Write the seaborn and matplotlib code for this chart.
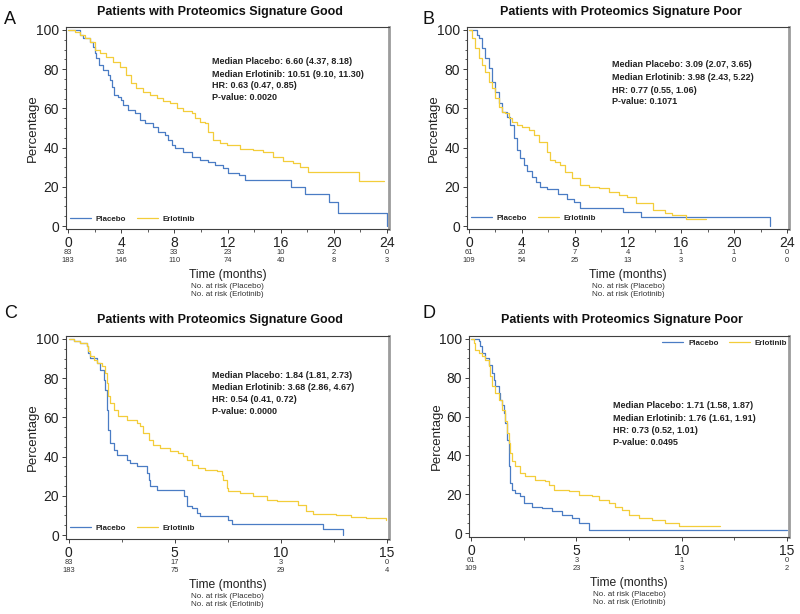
import numpy as np
import pandas as pd
import matplotlib
matplotlib.use("Agg")
import matplotlib.pyplot as plt
import matplotlib.transforms as mtransforms
from matplotlib.ticker import MultipleLocator
import seaborn as sns

sns.set_style("ticks")
plt.rcParams['font.family'] = ['Liberation Sans', 'DejaVu Sans']

BLUE = "#4a7cc4"
YELLOW = "#f3cd3a"

# ---------------- Panel A : Signature Good (0-24 months) ----------------
a_pla_t = [0, 0.88, 1.13, 1.63, 1.88, 2.01, 2.14, 2.34, 2.64, 3.02, 3.14, 3.34, 3.44, 3.77, 4.02, 4.15,
           4.52, 5.03, 5.40, 5.78, 6.41, 6.79, 7.29, 7.54, 7.79, 8.04, 8.67, 9.30, 9.93, 10.55, 11.06,
           11.69, 12.05, 12.9, 13.3, 16.8, 17.8, 19.6, 20.3, 24.0]
a_pla_s = [100, 97.4, 95.7, 94.0, 91.5, 88.1, 85.5, 82.1, 79.6, 77.0, 74.5, 71.1, 66.8, 66.0, 64.3, 61.7,
           59.2, 57.5, 54.1, 52.4, 50.7, 48.1, 46.4, 43.9, 41.3, 39.6, 37.9, 35.4, 33.7, 32.8, 31.3,
           29.4, 27.0, 26.0, 23.7, 20.0, 16.3, 12.2, 6.6, 0]
a_erl_t = [0, 0.50, 0.88, 1.26, 1.63, 2.01, 2.39, 2.89, 3.39, 3.90, 4.40, 4.77, 5.15, 5.65, 6.16, 6.66,
           7.16, 7.66, 8.17, 8.67, 9.30, 9.55, 9.93, 10.30, 10.55, 10.93, 11.43, 11.94, 12.94, 13.95,
           14.70, 15.45, 16.21, 16.96, 17.47, 18.09, 21.86, 23.75]
a_erl_s = [100, 99.1, 97.4, 95.7, 94.0, 89.8, 88.1, 86.4, 83.8, 81.3, 77.0, 72.8, 70.2, 68.5, 66.8, 65.1,
           63.8, 62.6, 60.4, 58.7, 57.5, 54.9, 53.2, 52.4, 48.1, 43.9, 42.2, 41.3, 39.3, 38.8,
           37.9, 35.4, 33.2, 32.0, 30.3, 27.6, 22.8, 22.8]
a_ticks = [0, 4, 8, 12, 16, 20, 24]
a_risk_pla = [83, 53, 33, 23, 10, 2, 0]
a_risk_erl = [183, 146, 110, 74, 40, 8, 3]
a_stats = ["Median Placebo: 6.60 (4.37, 8.18)", "Median Erlotinib: 10.51 (9.10, 11.30)",
           "HR: 0.63 (0.47, 0.85)", "P-value: 0.0020"]

# ---------------- Panel B : Signature Poor (0-24 months) ----------------
b_pla_t = [0, 0.60, 0.73, 0.98, 1.23, 1.48, 1.74, 1.99, 2.24, 2.49, 2.87, 3.12, 3.37, 3.62, 3.87, 4.13,
           4.40, 4.76, 5.05, 5.38, 5.9, 6.7, 7.4, 7.9, 8.35, 11.65, 12.95, 22.75]
b_pla_s = [100, 97.5, 95.7, 90.6, 85.5, 80.4, 73.6, 68.5, 62.6, 58.3, 55.8, 51.5, 44.7, 38.8, 34.5, 31.1,
           28.0, 25.0, 22.3, 20.1, 19.0, 16.2, 14.0, 12.3, 9.0, 7.0, 4.8, 0]
b_erl_t = [0, 0.23, 0.48, 0.73, 0.98, 1.23, 1.48, 1.74, 1.99, 2.24, 2.49, 2.74, 2.99, 3.25, 3.62, 4.00,
           4.50, 4.88, 5.26, 5.89, 6.14, 6.52, 6.89, 7.27, 7.77, 8.40, 9.03, 9.79, 10.54, 11.30,
           11.9, 12.6, 13.85, 14.8, 15.3, 16.35, 17.9]
b_erl_s = [100, 95.7, 90.6, 85.5, 82.1, 78.7, 73.6, 70.2, 65.1, 60.9, 58.3, 57.5, 54.9, 53.2, 51.5, 50.7,
           49.0, 46.4, 43.0, 37.9, 33.7, 32.8, 31.1, 27.7, 24.3, 20.9, 20.1, 19.2, 17.6, 15.8,
           14.6, 12.0, 8.0, 6.6, 5.4, 3.8, 3.8]
b_ticks = [0, 4, 8, 12, 16, 20, 24]
b_risk_pla = [61, 20, 7, 4, 1, 1, 0]
b_risk_erl = [109, 54, 25, 13, 3, 0, 0]
b_stats = ["Median Placebo: 3.09 (2.07, 3.65)", "Median Erlotinib: 3.98 (2.43, 5.22)",
           "HR: 0.77 (0.55, 1.06)", "P-value: 0.1071"]

# ---------------- Panel C : Signature Good (0-15 months) ----------------
c_pla_t = [0, 0.24, 0.55, 0.86, 0.94, 1.02, 1.33, 1.49, 1.65, 1.73, 1.80, 1.88, 1.96, 2.12, 2.28, 2.75,
           2.90, 3.22, 3.69, 3.77, 3.84, 4.16, 5.45, 5.57, 5.81, 6.04, 6.20, 7.53, 7.69, 12.0, 12.94]
c_pla_s = [100, 98.8, 98.0, 96.3, 92.9, 90.3, 87.8, 84.4, 79.3, 74.2, 64.0, 53.8, 47.0, 43.5, 41.0, 38.4,
           36.7, 35.0, 31.6, 28.2, 24.8, 23.1, 19.7, 14.6, 13.8, 11.2, 9.5, 7.8, 5.8, 3.1, 0]
c_erl_t = [0, 0.24, 0.55, 0.86, 0.94, 1.02, 1.18, 1.33, 1.57, 1.73, 1.80, 1.88, 1.96, 2.12, 2.35, 2.75,
           3.22, 3.37, 3.53, 3.77, 4.00, 4.31, 4.79, 5.18, 5.41, 5.57, 5.81, 6.12, 6.43, 6.98,
           7.22, 7.30, 7.45, 7.53, 8.08, 8.71, 9.34, 9.81, 10.8, 11.2, 11.5, 12.6, 13.3, 14.0, 14.95]
c_erl_s = [100, 98.8, 98.0, 96.3, 93.7, 91.2, 89.5, 87.8, 86.1, 82.7, 77.6, 70.8, 67.4, 64.0, 60.6, 58.9,
           57.2, 55.5, 52.1, 48.6, 46.1, 44.4, 42.7, 41.8, 40.1, 38.4, 35.9, 34.2, 33.3, 32.5,
           30.8, 28.2, 24.0, 22.3, 21.4, 19.7, 18.0, 17.2, 15.5, 12.5, 11.0, 10.0, 9.0, 8.5, 7.5]
c_ticks = [0, 5, 10, 15]
c_risk_pla = [83, 17, 3, 0]
c_risk_erl = [183, 75, 29, 4]
c_stats = ["Median Placebo: 1.84 (1.81, 2.73)", "Median Erlotinib: 3.68 (2.86, 4.67)",
           "HR: 0.54 (0.41, 0.72)", "P-value: 0.0000"]

# ---------------- Panel D : Signature Poor (0-15 months) ----------------
d_pla_t = [0, 0.36, 0.44, 0.52, 0.68, 0.84, 1.00, 1.08, 1.15, 1.31, 1.39, 1.47, 1.55, 1.63, 1.71, 1.79,
           1.87, 1.95, 2.10, 2.34, 2.50, 2.90, 3.37, 3.84, 4.32, 4.79, 5.11, 5.58, 15.0]
d_pla_s = [100, 98.8, 96.2, 92.8, 90.2, 86.8, 82.5, 79.0, 75.6, 72.2, 68.7, 66.1, 61.8, 56.7, 48.1, 34.4,
           25.8, 22.3, 20.6, 18.9, 15.5, 13.7, 12.9, 11.2, 9.4, 7.7, 5.2, 1.7, 1.7]
d_erl_t = [0, 0.13, 0.21, 0.36, 0.52, 0.68, 0.84, 0.92, 1.00, 1.15, 1.31, 1.47, 1.63, 1.71, 1.79, 1.87,
           1.95, 2.10, 2.34, 2.58, 3.05, 3.53, 3.69, 3.92, 4.64, 5.11, 5.74, 6.06, 6.53, 6.85,
           7.17, 7.48, 7.96, 8.59, 9.22, 9.86, 11.8]
d_erl_s = [100, 97.9, 94.5, 92.8, 91.1, 89.3, 85.9, 80.7, 75.6, 72.2, 68.7, 63.6, 57.6, 51.5, 46.4, 41.2,
           36.9, 34.4, 30.9, 29.2, 27.5, 26.6, 24.9, 22.3, 21.5, 19.8, 18.9, 17.2, 15.5, 13.7,
           12.0, 9.4, 7.7, 6.9, 5.2, 3.8, 3.8]
d_ticks = [0, 5, 10, 15]
d_risk_pla = [61, 3, 1, 0]
d_risk_erl = [109, 23, 3, 2]
d_stats = ["Median Placebo: 1.71 (1.58, 1.87)", "Median Erlotinib: 1.76 (1.61, 1.91)",
           "HR: 0.73 (0.52, 1.01)", "P-value: 0.0495"]

arms = ["Placebo", "Erlotinib"]
titles = {"good": "Patients with Proteomics Signature Good",
          "poor": "Patients with Proteomics Signature Poor"}

W, H = 800, 614
fig = plt.figure(figsize=(W / 100, H / 100), dpi=100)


def px_axes(left, right, top, bottom):
    return fig.add_axes([left / W, (H - bottom) / H, (right - left) / W, (bottom - top) / H])


def draw_panel(ax, pla_t, pla_s, erl_t, erl_s, ticks, risk_p, risk_e, stats,
               xlim, ylim, minor_x, stats_x, stats_y, legend_loc, legend_anchor):
    df = pd.concat([
        pd.DataFrame({"time": pla_t, "surv": pla_s, "arm": arms[0]}),
        pd.DataFrame({"time": erl_t, "surv": erl_s, "arm": arms[1]}),
    ], ignore_index=True)
    sns.lineplot(data=df, x="time", y="surv", hue="arm", hue_order=arms,
                 palette={arms[0]: BLUE, arms[1]: YELLOW}, estimator=None, sort=False,
                 drawstyle="steps-post", lw=0.9, ax=ax, legend=True)
    ax.set_xlim(*xlim)
    ax.set_ylim(*ylim)
    ax.set_xticks(ticks)
    ax.set_yticks([0, 20, 40, 60, 80, 100])
    ax.xaxis.set_minor_locator(MultipleLocator(minor_x))
    ax.yaxis.set_minor_locator(MultipleLocator(5))
    ax.tick_params(axis="both", which="major", direction="out", length=3, width=0.7,
                   color="#404040", labelsize=10, pad=2, labelcolor="#222222")
    ax.tick_params(axis="both", which="minor", direction="out", length=1.8, width=0.6,
                   color="#404040")
    for side in ["left", "bottom", "top"]:
        ax.spines[side].set_visible(True)
        ax.spines[side].set_color("#404040")
        ax.spines[side].set_linewidth(0.8)
    ax.spines["right"].set_visible(True)
    ax.spines["right"].set_color("#9c9c9c")
    ax.spines["right"].set_linewidth(2.0)
    ax.set_xlabel("")
    ax.set_ylabel("Percentage", fontsize=9.5, color="#222222")
    ax.yaxis.set_label_coords(-0.083, 0.5)

    trans = mtransforms.blended_transform_factory(ax.transData, ax.transAxes)
    for t, n1, n2 in zip(ticks, risk_p, risk_e):
        ax.text(t, -0.117, str(n1), transform=trans, ha="center", va="center",
                fontsize=5.4, color="#333333")
        ax.text(t, -0.157, str(n2), transform=trans, ha="center", va="center",
                fontsize=5.4, color="#333333")
    ax.text(0.5, -0.228, "Time (months)", transform=ax.transAxes, ha="center", va="center",
            fontsize=8.7, color="#222222")
    ax.text(0.5, -0.284, "No. at risk (Placebo)", transform=ax.transAxes, ha="center",
            va="center", fontsize=5.8, color="#333333")
    ax.text(0.5, -0.325, "No. at risk (Erlotinib)", transform=ax.transAxes, ha="center",
            va="center", fontsize=5.8, color="#333333")

    for line, y in zip(stats, stats_y):
        ax.text(stats_x, y, line, transform=ax.transAxes, ha="left", va="center",
                fontsize=6.5, fontweight="bold", color="#222222")

    handles, labels = ax.get_legend_handles_labels()
    leg = ax.legend(handles, labels, loc=legend_loc, bbox_to_anchor=legend_anchor,
                    frameon=False, ncol=2, handlelength=2.6, handletextpad=0.6,
                    columnspacing=1.3, borderaxespad=0, borderpad=0,
                    prop={"size": 5.8, "weight": "bold"})
    for lh in leg.get_lines():
        lh.set_linewidth(0.9)


axA = px_axes(66, 389, 27, 229)
draw_panel(axA, a_pla_t, a_pla_s, a_erl_t, a_erl_s, a_ticks, a_risk_pla, a_risk_erl, a_stats,
           (-0.15, 24.15), (-1.5, 101.5), 2, 0.452, [0.827, 0.767, 0.708, 0.649],
           "lower left", (0.012, 0.03))

axB = px_axes(467, 789, 27, 229)
draw_panel(axB, b_pla_t, b_pla_s, b_erl_t, b_erl_s, b_ticks, b_risk_pla, b_risk_erl, b_stats,
           (-0.15, 24.15), (-1.5, 101.5), 2, 0.450, [0.812, 0.752, 0.688, 0.629],
           "lower left", (0.012, 0.035))

axC = px_axes(66, 389, 336, 539)
draw_panel(axC, c_pla_t, c_pla_s, c_erl_t, c_erl_s, c_ticks, c_risk_pla, c_risk_erl, c_stats,
           (-0.12, 15.1), (-2, 101.5), 2.5, 0.452, [0.803, 0.744, 0.685, 0.626],
           "lower left", (0.012, 0.035))

axD = px_axes(469, 789, 336, 537)
draw_panel(axD, d_pla_t, d_pla_s, d_erl_t, d_erl_s, d_ticks, d_risk_pla, d_risk_erl, d_stats,
           (-0.095, 15.09), (-2, 101.5), 2.5, 0.450, [0.652, 0.592, 0.530, 0.470],
           "upper right", (0.995, 0.985))

# titles and panel letters
for x, y, key in [(220, 12, "good"), (621, 12, "poor"), (220, 320, "good"), (622, 320, "poor")]:
    fig.text(x / W, 1 - y / H, titles[key], ha="center", va="center", fontsize=9,
             fontweight="bold", color="#111111")
for x, y, letter in [(4, 19, "A"), (422, 19, "B"), (4, 313, "C"), (422, 313, "D")]:
    fig.text(x / W, 1 - y / H, letter, ha="left", va="center", fontsize=13, color="#111111")

fig.savefig("out.png", dpi=100, facecolor="white")
